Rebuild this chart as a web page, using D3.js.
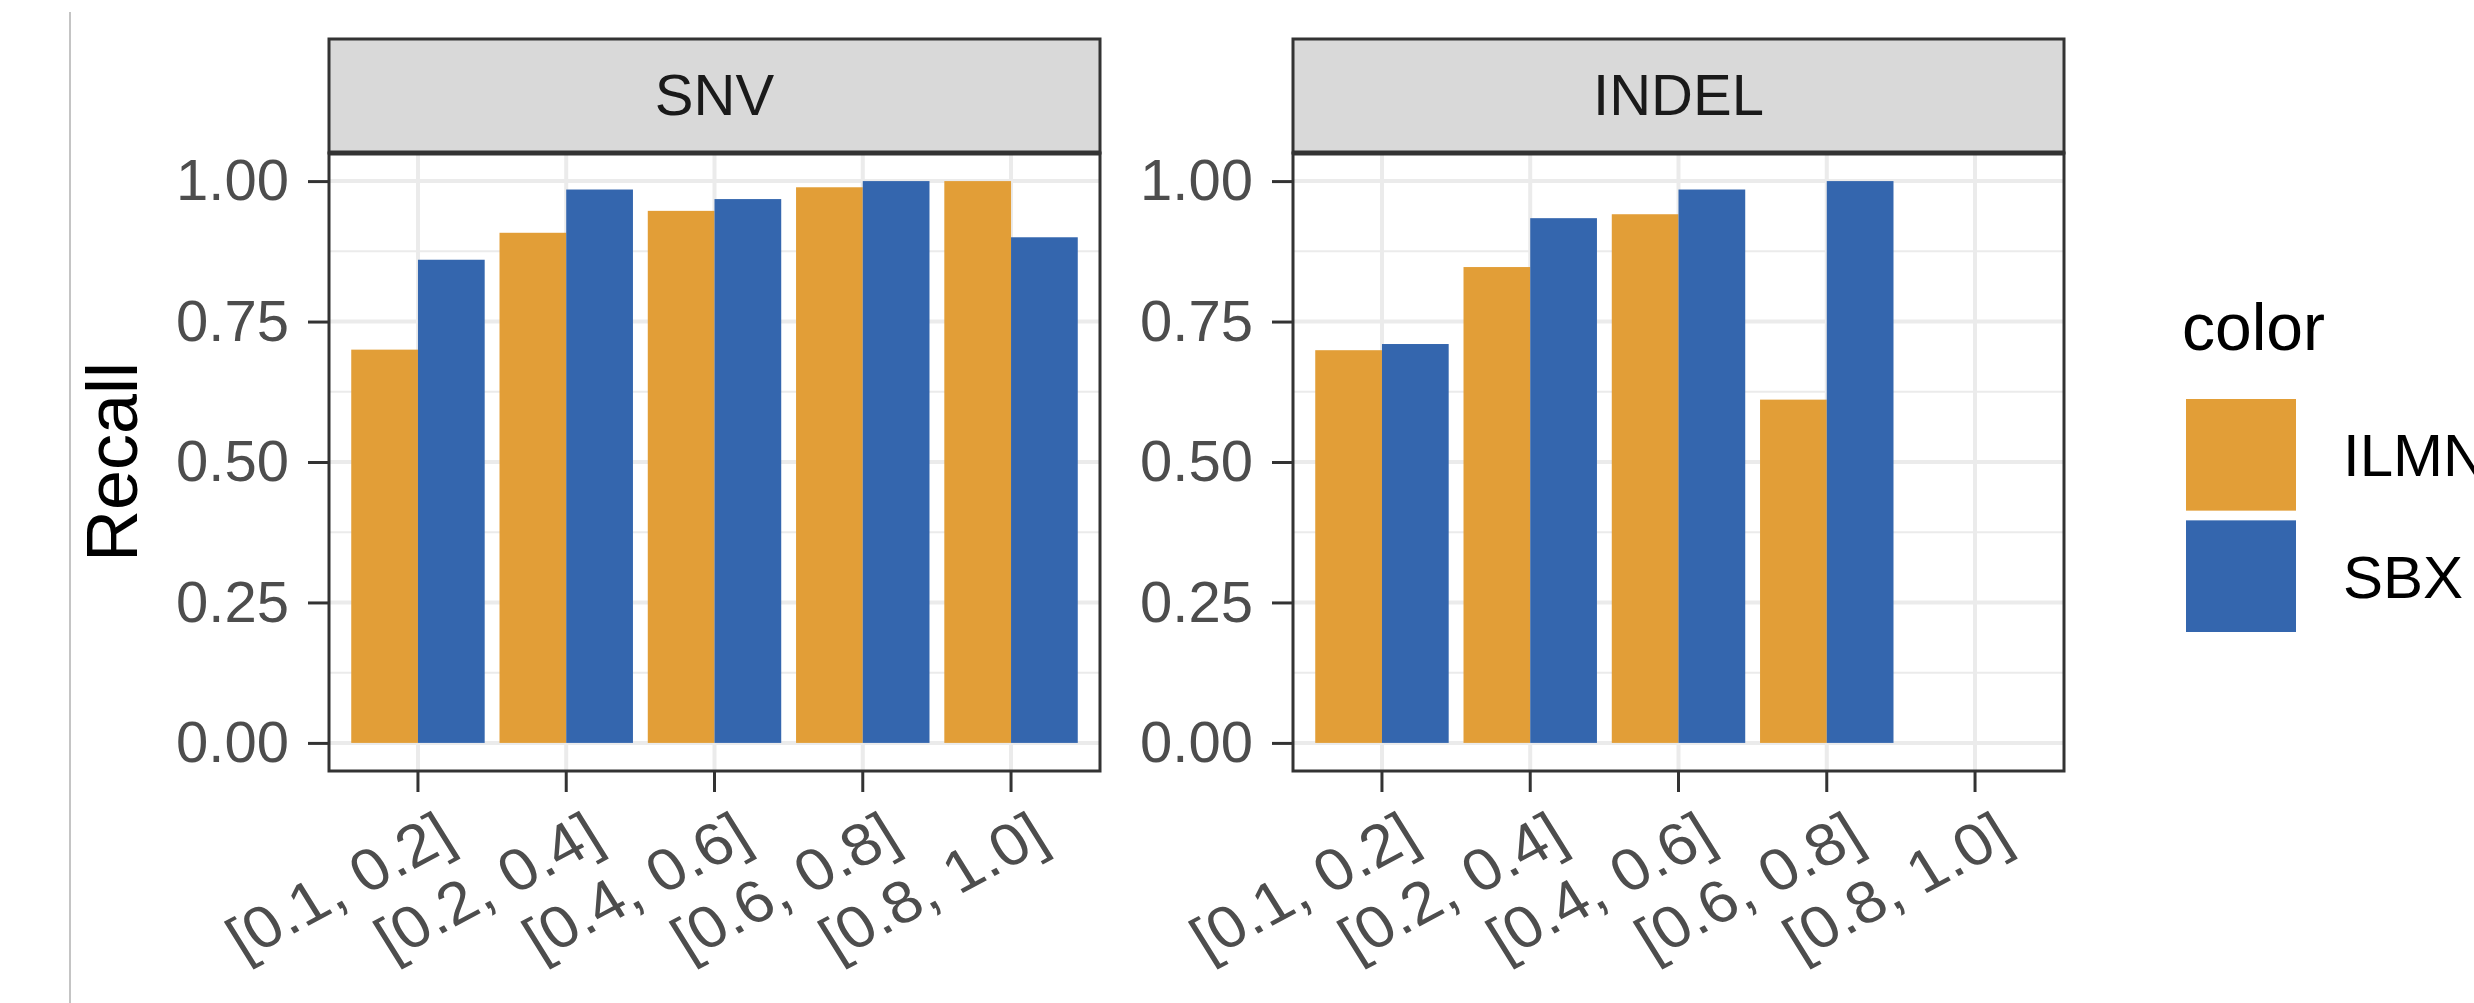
<!DOCTYPE html>
<html>
<head>
<meta charset="utf-8">
<script src="https://cdn.jsdelivr.net/npm/d3@7"></script>
<style>
  body { margin: 0; background: #fff; }
  svg { display: block; font-family: "Liberation Sans", Arial, sans-serif; }
</style>
</head>
<body>
<svg id="chart" width="2474" height="1003"></svg>
<script>
// data
const categories = ["[0.1, 0.2]", "[0.2, 0.4]", "[0.4, 0.6]", "[0.6, 0.8]", "[0.8, 1.0]"];
const panels = ["SNV", "INDEL"];
const series = ["ILMN", "SBX"];
const seriesColors = ["#e29e37", "#3466ae"];
const snvIlmn = [0.700, 0.908, 0.947, 0.989, 1.000];
const snvSbx = [0.860, 0.985, 0.968, 1.000, 0.900];
const indelIlmn = [0.699, 0.847, 0.941, 0.611, null];
const indelSbx = [0.710, 0.934, 0.985, 1.000, null];
const yTicks = [0, 0.25, 0.5, 0.75, 1];
const yMinor = [0.125, 0.375, 0.625, 0.875];

const panelValues = {
    SNV: [snvIlmn, snvSbx],
    INDEL: [indelIlmn, indelSbx]
};

const svg = d3.select("#chart");

const panelTop = 153, panelBottom = 771, stripTop = 39;
const panelW = 771;
const panelLefts = [329, 1293];

const y = d3.scaleLinear()
    .domain([-0.05, 1.05])
    .range([panelBottom, panelTop]);

const color = d3.scaleOrdinal().domain(series).range(seriesColors);

// thin grey rule on the far left of the picture
svg.append("line")
    .attr("x1", 70).attr("x2", 70)
    .attr("y1", 12).attr("y2", 1003)
    .attr("stroke", "#c4c4c4")
    .attr("stroke-width", 2);

panels.forEach((name, p) => {
    const x0 = panelLefts[p];
    const g = svg.append("g").attr("transform", `translate(${x0},0)`);

    const x = d3.scaleBand()
        .domain(categories)
        .range([0, panelW])
        .paddingInner(0.1)
        .paddingOuter(0.15);
    const xs = d3.scaleBand().domain(series).range([0, x.bandwidth()]);

    // grid
    g.append("g").selectAll("line")
        .data(yMinor).join("line")
        .attr("x1", 0).attr("x2", panelW)
        .attr("y1", d => y(d)).attr("y2", d => y(d))
        .attr("stroke", "#ebebeb").attr("stroke-width", 2);
    g.append("g").selectAll("line")
        .data(yTicks).join("line")
        .attr("x1", 0).attr("x2", panelW)
        .attr("y1", d => y(d)).attr("y2", d => y(d))
        .attr("stroke", "#ebebeb").attr("stroke-width", 4);
    g.append("g").selectAll("line")
        .data(categories).join("line")
        .attr("x1", d => x(d) + x.bandwidth() / 2).attr("x2", d => x(d) + x.bandwidth() / 2)
        .attr("y1", panelTop).attr("y2", panelBottom)
        .attr("stroke", "#ebebeb").attr("stroke-width", 4);

    // bars
    const rows = [];
    categories.forEach((c, i) => {
        series.forEach((s, j) => {
            const v = panelValues[name][j][i];
            if (v != null) rows.push({ cat: c, series: s, value: v });
        });
    });
    g.append("g").selectAll("rect")
        .data(rows).join("rect")
        .attr("x", d => x(d.cat) + xs(d.series))
        .attr("width", xs.bandwidth())
        .attr("y", d => y(d.value))
        .attr("height", d => y(0) - y(d.value))
        .attr("fill", d => color(d.series));

    // panel border
    g.append("rect")
        .attr("x", 0).attr("y", panelTop)
        .attr("width", panelW).attr("height", panelBottom - panelTop)
        .attr("fill", "none").attr("stroke", "#333").attr("stroke-width", 3);

    // strip
    g.append("rect")
        .attr("x", 0).attr("y", stripTop)
        .attr("width", panelW).attr("height", panelTop - stripTop)
        .attr("fill", "#d9d9d9").attr("stroke", "#333").attr("stroke-width", 3);
    g.append("line")
        .attr("x1", 0).attr("x2", panelW)
        .attr("y1", panelTop).attr("y2", panelTop)
        .attr("stroke", "#333").attr("stroke-width", 5);
    g.append("text")
        .attr("x", panelW / 2).attr("y", 115)
        .attr("text-anchor", "middle")
        .attr("font-size", 58)
        .attr("fill", "#1a1a1a")
        .text(name);

    // y axis
    const yAxis = g.append("g")
        .call(d3.axisLeft(y).tickValues(yTicks).tickFormat(d3.format(".2f")).tickSize(21).tickPadding(19));
    yAxis.select(".domain").remove();
    yAxis.selectAll(".tick line").attr("stroke", "#333").attr("stroke-width", 3);
    yAxis.selectAll(".tick text")
        .attr("font-size", 58)
        .attr("font-family", "Liberation Sans, Arial, sans-serif")
        .attr("fill", "#4d4d4d");

    // x axis
    const xAxis = g.append("g")
        .attr("transform", `translate(0,${panelBottom})`)
        .call(d3.axisBottom(x).tickSize(21).tickSizeOuter(0));
    xAxis.select(".domain").remove();
    xAxis.selectAll(".tick line").attr("stroke", "#333").attr("stroke-width", 3);
    xAxis.selectAll(".tick text")
        .attr("font-size", 58)
        .attr("font-family", "Liberation Sans, Arial, sans-serif")
        .attr("fill", "#4d4d4d")
        .attr("text-anchor", "end")
        .attr("x", null).attr("y", null)
        .attr("dy", "0.72em")
        .attr("transform", "translate(17,38) scale(1.1,1.02) rotate(-30)");
});

// y title
svg.append("text")
    .attr("transform", `translate(137,${(panelTop + panelBottom) / 2}) rotate(-90)`)
    .attr("text-anchor", "middle")
    .attr("font-size", 72)
    .attr("fill", "#000")
    .text("Recall");

// legend
const legend = svg.append("g").attr("transform", "translate(2182,0)");
legend.append("text")
    .attr("x", 0).attr("y", 350)
    .attr("font-size", 66)
    .attr("fill", "#000")
    .text("color");

const keyY = d3.scaleBand().domain(series).range([399, 632]).paddingInner(0.08);
legend.selectAll("rect.key")
    .data(series).join("rect")
    .attr("class", "key")
    .attr("x", 4)
    .attr("y", d => keyY(d))
    .attr("width", 110)
    .attr("height", keyY.bandwidth())
    .attr("fill", d => color(d));
legend.selectAll("text.lab")
    .data(series).join("text")
    .attr("class", "lab")
    .attr("x", 161)
    .attr("y", d => keyY(d) + keyY.bandwidth() / 2)
    .attr("dy", "0.36em")
    .attr("font-size", 60)
    .attr("fill", "#000")
    .text(d => d);
</script>
</body>
</html>
